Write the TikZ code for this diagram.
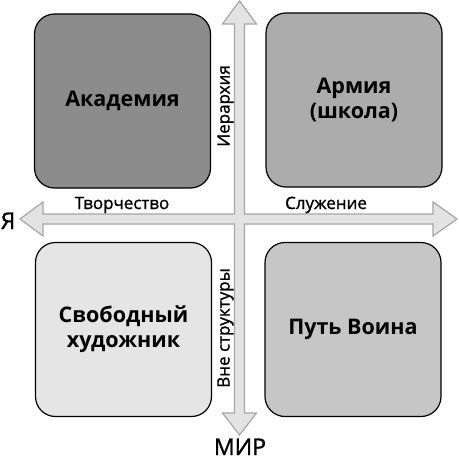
\documentclass[tikz,border=0pt]{standalone}
\usepackage{fontspec}
\setmainfont{Open Sans}
\newfontfamily\medfont[FakeBold=1.2]{Open Sans}
\begin{document}
\begin{tikzpicture}
		[x=1pt,y=-1pt,
		quadrant/.style={draw=black,line width=1.2pt,rounded corners=20pt,
			minimum width=176pt,minimum height=174pt,align=center,
			font=\fontsize{21.5}{25}\selectfont\bfseries},
		axislabel/.style={font=\fontsize{17}{19}\selectfont\medfont,inner sep=0pt},
		pole/.style={font=\fontsize{23}{25}\selectfont\medfont,inner sep=0pt}]
		\useasboundingbox (0,0) rectangle (458,460);
		% the cross of axes
		\draw[draw=gray!70,fill=gray!22,line width=1.2pt,line join=miter]
		(239.5,1) -- (256.5,24) -- (244.5,24) -- (244.5,214) -- (433,214)
		-- (433,202) -- (457,219) -- (433,236) -- (433,224) -- (244.5,224)
		-- (244.5,413) -- (256.5,413) -- (239.5,435) -- (222.5,413)
		-- (234.5,413) -- (234.5,224) -- (43,224) -- (43,236) -- (20,219)
		-- (43,202) -- (43,214) -- (234.5,214) -- (234.5,24) -- (222.5,24)
		-- cycle;
		% quadrants
		\node[quadrant,fill=gray!90] (academy) at (122.5,101) {Академия};
		\node[quadrant,fill=gray!65] (army) at (354,100) {Армия\\(школа)};
		\node[quadrant,fill=gray!20] (artist) at (123.5,329.5) {Свободный\\художник};
		\node[quadrant,fill=gray!45] (warrior) at (353,329.5) {Путь Воина};
		% axis labels
		\node[axislabel,anchor=base] (creation) at (122,209) {Творчество};
		\node[axislabel,anchor=base] (service) at (326,209) {Служение};
		\node[axislabel,rotate=90,anchor=base] (hierarchy) at (229.5,106) {Иерархия};
		\node[axislabel,rotate=90,anchor=base] (outside) at (229.5,328) {Вне структуры};
		\node[pole,anchor=base] (self) at (8,229) {Я};
		\node[pole,anchor=base] (world) at (240,455) {МИР};
	\end{tikzpicture}
\end{document}
